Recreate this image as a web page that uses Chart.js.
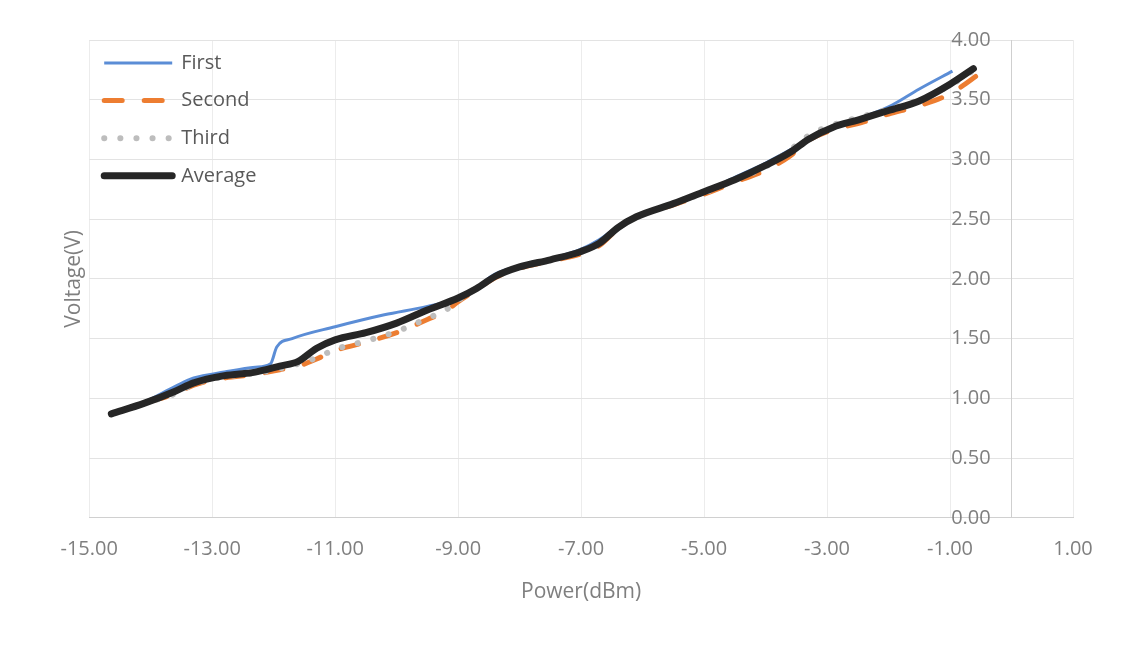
<!DOCTYPE html>
<html>
<head>
<meta charset="utf-8">
<script src="https://cdn.jsdelivr.net/npm/chart.js@4/dist/chart.umd.min.js"></script>
<style>
    html, body { margin: 0; padding: 0; background: #ffffff; }
    #wrap { width: 1123px; height: 645px; }
</style>
</head>
<body>
<div id="wrap"><canvas id="voltChart" width="1123" height="645"></canvas></div>
<script>
//Axeltext och tickvärden.
const powerTicks = [-15, -13, -11, -9, -7, -5, -3, -1, 1];
const voltageTicks = [0, 0.5, 1, 1.5, 2, 2.5, 3, 3.5, 4];

//Serie 1 - First
const firstPower = [-14.64, -14.1, -13.6, -13.3, -12.8, -12.3, -12.05, -11.95, -11.7, -11.0, -10.2, -9.5, -9.0, -8.7, -8.4, -8.0, -7.5, -7.0, -6.7, -6.4, -6.1, -5.5, -5.0, -4.5, -4.0, -3.6, -3.3, -2.9, -2.5, -2.0, -1.5, -0.96];
const firstVoltage = [0.87, 0.97, 1.10, 1.17, 1.22, 1.26, 1.29, 1.43, 1.50, 1.60, 1.70, 1.77, 1.84, 1.93, 2.04, 2.11, 2.17, 2.25, 2.33, 2.44, 2.53, 2.63, 2.73, 2.85, 2.97, 3.08, 3.17, 3.27, 3.34, 3.44, 3.59, 3.74];

//Serie 2 - Second
const secondPower = [-14.64, -14.1, -13.6, -13.3, -12.8, -12.3, -11.9, -11.6, -11.3, -11.0, -10.5, -10.0, -9.5, -9.2, -9.0, -8.7, -8.4, -8.0, -7.5, -7.0, -6.7, -6.4, -6.1, -5.5, -5.0, -4.5, -4.0, -3.6, -3.3, -2.9, -2.5, -2.0, -1.5, -1.0, -0.46];
const secondVoltage = [0.87, 0.96, 1.04, 1.11, 1.17, 1.20, 1.24, 1.27, 1.33, 1.40, 1.47, 1.55, 1.66, 1.73, 1.81, 1.91, 2.01, 2.09, 2.15, 2.21, 2.28, 2.42, 2.52, 2.62, 2.71, 2.81, 2.91, 3.03, 3.16, 3.25, 3.30, 3.38, 3.45, 3.55, 3.74];

//Serie 3 - Third
const thirdPower = [-14.64, -14.1, -13.6, -13.3, -12.8, -12.3, -11.9, -11.6, -11.3, -11.0, -10.5, -10.0, -9.5, -9.2, -9.0, -8.7, -8.4, -8.0, -7.5, -7.0, -6.7, -6.4, -6.1, -5.5, -5.0, -4.5, -4.0, -3.6, -3.3, -2.9, -2.5, -2.0, -1.5, -1.0, -0.46];
const thirdVoltage = [0.87, 0.96, 1.04, 1.12, 1.18, 1.21, 1.25, 1.29, 1.34, 1.41, 1.48, 1.56, 1.67, 1.74, 1.82, 1.92, 2.02, 2.10, 2.16, 2.23, 2.30, 2.43, 2.52, 2.63, 2.72, 2.83, 2.94, 3.08, 3.20, 3.29, 3.35, 3.42, 3.50, 3.62, 3.80];

//Medelvärde - Average
const averagePower = [-14.64, -14.1, -13.6, -13.3, -12.8, -12.3, -11.9, -11.6, -11.3, -11.0, -10.5, -10.0, -9.5, -9.0, -8.7, -8.4, -8.0, -7.5, -7.0, -6.7, -6.4, -6.1, -5.5, -5.0, -4.5, -4.0, -3.6, -3.3, -2.9, -2.5, -2.0, -1.5, -1.0, -0.62];
const averageVoltage = [0.87, 0.96, 1.06, 1.13, 1.19, 1.22, 1.27, 1.31, 1.42, 1.49, 1.55, 1.63, 1.74, 1.84, 1.92, 2.02, 2.10, 2.16, 2.23, 2.30, 2.43, 2.52, 2.63, 2.73, 2.83, 2.95, 3.06, 3.17, 3.27, 3.33, 3.41, 3.49, 3.63, 3.76];

/**Slår ihop x- och y-listor till punkter.
 * @param {Array<number>} xs
 * @param {Array<number>} ys
 * @returns {Array<{x: number, y: number}>}
 */
function toPoints(xs, ys) {
    return xs.map((x, i) => ({ x: x, y: ys[i] }));
}

const fontFamily = '"Open Sans", sans-serif';

//Förklaring ritad inne i diagramytan.
const insideLegend = {
    id: "insideLegend",
    afterDraw(chart) {
        const ctx = chart.ctx;
        const area = chart.chartArea;
        chart.data.datasets.forEach((ds, i) => {
            const y = area.top + 23 + i * 37.6;
            ctx.save();
            ctx.strokeStyle = ds.borderColor;
            ctx.lineWidth = ds.borderWidth;
            ctx.setLineDash(ds.borderDash || []);
            ctx.lineCap = ds.borderCapStyle || "butt";
            ctx.beginPath();
            ctx.moveTo(area.left + 15, y);
            ctx.lineTo(area.left + 83, y);
            ctx.stroke();
            ctx.setLineDash([]);
            ctx.fillStyle = "#595959";
            ctx.font = "20px " + fontFamily;
            ctx.textBaseline = "middle";
            ctx.fillText(ds.label, area.left + 92, y);
            ctx.restore();
        });
    }
};

const ctx = document.getElementById("voltChart");

new Chart(ctx, {
    type: "scatter",
    data: {
        datasets: [
            {
                label: "First",
                data: toPoints(firstPower, firstVoltage),
                borderColor: "#5B8DD6",
                borderWidth: 3,
                order: 3
            },
            {
                label: "Second",
                data: toPoints(secondPower, secondVoltage),
                borderColor: "#ED7D31",
                borderWidth: 5,
                borderDash: [18, 22],
                borderCapStyle: "round",
                order: 2
            },
            {
                label: "Third",
                data: toPoints(thirdPower, thirdVoltage),
                borderColor: "#BDBDBD",
                borderWidth: 6,
                borderDash: [0.1, 16],
                borderCapStyle: "round",
                order: 1
            },
            {
                label: "Average",
                data: toPoints(averagePower, averageVoltage),
                borderColor: "#262626",
                borderWidth: 7,
                borderCapStyle: "round",
                borderJoinStyle: "round",
                order: 0
            }
        ]
    },
    options: {
        responsive: false,
        animation: false,
        showLine: true,
        clip: false,
        elements: {
            point: { radius: 0, hoverRadius: 0 },
            line: { cubicInterpolationMode: "monotone", fill: false }
        },
        layout: {
            padding: { left: 57, right: 50, top: 40, bottom: 40 }
        },
        plugins: {
            legend: { display: false },
            tooltip: { enabled: false }
        },
        scales: {
            x: {
                type: "linear",
                position: "bottom",
                min: -15,
                max: 1,
                afterBuildTicks: axis => { axis.ticks = powerTicks.map(v => ({ value: v })); },
                grid: { color: "#ececec", drawTicks: false },
                border: { color: "#d0d0d0" },
                ticks: {
                    padding: 19,
                    color: "#7f7f7f",
                    font: { family: fontFamily, size: 20 },
                    callback: v => v.toFixed(2)
                },
                title: {
                    display: true,
                    text: "Power(dBm)",
                    color: "#7f7f7f",
                    font: { family: fontFamily, size: 21 },
                    padding: { top: 0, bottom: 0 }
                }
            },
            y: {
                type: "linear",
                position: { x: 0 },
                min: 0,
                max: 4,
                afterBuildTicks: axis => { axis.ticks = voltageTicks.map(v => ({ value: v })); },
                grid: { color: "#e3e3e3", drawTicks: false },
                border: { color: "#cfcfcf" },
                ticks: {
                    color: "#7f7f7f",
                    font: { family: fontFamily, size: 20 },
                    //Mellanslag flyttar etiketten bort från axellinjen.
                    callback: v => v.toFixed(2) + "    "
                }
            },
            yTitle: {
                type: "linear",
                position: "left",
                min: 0,
                max: 4,
                grid: { display: false, drawTicks: false },
                border: { display: false },
                ticks: { display: false },
                title: {
                    display: true,
                    text: "Voltage(V)",
                    color: "#7f7f7f",
                    font: { family: fontFamily, size: 21 },
                    padding: { top: 4, bottom: 3 }
                }
            }
        }
    },
    plugins: [insideLegend]
});
</script>
</body>
</html>
